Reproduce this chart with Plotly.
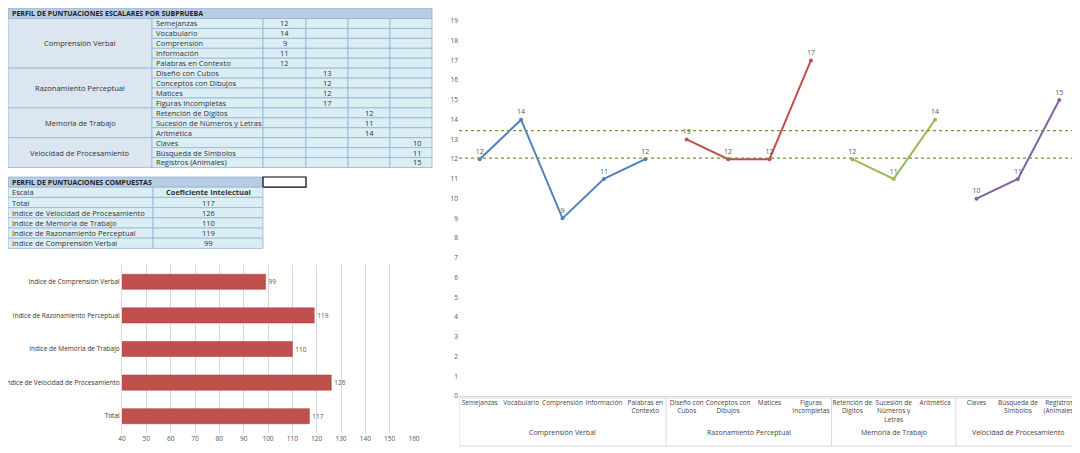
import plotly.graph_objects as go

W, H = 1080, 453

# subtest profile
groups = ["Comprensión Verbal", "Razonamiento Perceptual", "Memoria de Trabajo", "Velocidad de Procesamiento"]
subtests = [
    ["Semejanzas", "Vocabulario", "Comprensión", "Información", "Palabras en Contexto"],
    ["Diseño con Cubos", "Conceptos con Dibujos", "Matices", "Figuras Incompletas"],
    ["Retención de Dígitos", "Sucesión de Números y Letras", "Aritmética"],
    ["Claves", "Búsqueda de Símbolos", "Registros (Animales)"],
]
scores = [[12, 14, 9, 11, 12], [13, 12, 12, 17], [12, 11, 14], [10, 11, 15]]
tick_labels = [
    ["Semejanzas", "Vocabulario", "Comprensión", "Información", "Palabras en<br>Contexto"],
    ["Diseño con<br>Cubos", "Conceptos con<br>Dibujos", "Matices", "Figuras<br>Incompletas"],
    ["Retención de<br>Dígitos", "Sucesión de<br>Números y<br>Letras", "Aritmética"],
    ["Claves", "Búsqueda de<br>Símbolos", "Registros<br>(Animales)"],
]
group_colors = ["#4f81bd", "#c0504d", "#9bbb59", "#8064a2"]
ref_lines = [13.45, 12.05]

# composite scores
indices = ["Total", "Indice de Velocidad de Procesamiento", "Indice de Memoria de Trabajo",
           "Indice de Razonamiento Perceptual", "Indice de Comprensión Verbal"]
ci = [117, 126, 110, 119, 99]

FONT = "Open Sans"


def px(x):
    return x / W


def py(y):
    return 1 - y / H


shapes, annots = [], []


def cell(x0, y0, x1, y1, fill, line="#95b3d7", width=0.8):
    shapes.append(dict(type="rect", xref="paper", yref="paper", x0=px(x0), x1=px(x1),
                       y0=py(y1), y1=py(y0), fillcolor=fill, line=dict(color=line, width=width), layer="below"))


def text(x, y, s, anchor="left", size=7.5, bold=False, color="#333"):
    annots.append(dict(xref="paper", yref="paper", x=px(x), y=py(y), text=f"<b>{s}</b>" if bold else s,
                       showarrow=False, xanchor=anchor, yanchor="middle",
                       font=dict(family=FONT, size=size, color=color)))


# ---- table 1
rh = 9.93
top = 10.5
cell(0, 0, 424, top, "#b8cce4")
text(2, 5, "PERFIL DE PUNTUACIONES ESCALARES POR SUBPRUEBA", size=7, bold=True, color="#1f1f1f")
cols = [255, 298, 340, 382, 424]
r = 0
for g, (name, subs, vals) in enumerate(zip(groups, subtests, scores)):
    y0 = top + r * rh
    cell(0, y0, 144, y0 + len(subs) * rh, "#dce6f1")
    text(72, y0 + len(subs) * rh / 2, name, anchor="center")
    for s, v in zip(subs, vals):
        ya = top + r * rh
        cell(144, ya, 255, ya + rh, "#daeef3")
        text(146, ya + rh / 2, s)
        for c in range(4):
            cell(cols[c], ya, cols[c + 1], ya + rh, "#daeef3")
        xc = (cols[g] + cols[g + 1]) / 2 if g < 3 else cols[4] - 8
        text(xc, ya + rh / 2, str(v), anchor="center" if g < 3 else "right")
        r += 1

# ---- table 2
t2 = 169
rh2 = 10.2
cell(0, t2, 255, t2 + rh2, "#b8cce4")
text(2, t2 + rh2 / 2, "PERFIL DE PUNTUACIONES COMPUESTAS", size=7, bold=True, color="#1f1f1f")
cell(255, t2, 298, t2 + rh2, "white", line="black", width=1.2)
ya = t2 + rh2
cell(0, ya, 145, ya + rh2, "#daeef3")
cell(145, ya, 255, ya + rh2, "#daeef3")
text(2, ya + rh2 / 2, "Escala")
text(200, ya + rh2 / 2, "Coeficiente Intelectual", anchor="center", bold=True)
for i, (n, v) in enumerate(zip(indices, ci)):
    ya = t2 + rh2 * (i + 2)
    cell(0, ya, 145, ya + rh2, "#daeef3")
    cell(145, ya, 255, ya + rh2, "#daeef3")
    text(2, ya + rh2 / 2, n)
    text(200, ya + rh2 / 2, str(v), anchor="center")

fig = go.Figure()

# ---- line chart
pos = 0
tickvals, ticktext = [], []
for g, (vals, labs) in enumerate(zip(scores, tick_labels)):
    xs = list(range(pos, pos + len(vals)))
    fig.add_trace(go.Scatter(x=xs, y=vals, mode="lines+markers+text", text=[str(v) for v in vals],
                             textposition="top center", textfont=dict(size=7, color="#555", family=FONT),
                             line=dict(color=group_colors[g], width=2),
                             marker=dict(size=4, color=group_colors[g]),
                             xaxis="x2", yaxis="y2", showlegend=False, cliponaxis=False))
    tickvals += xs
    ticktext += labs
    annots.append(dict(xref="x2", yref="paper", x=(xs[0] + xs[-1]) / 2, y=py(431),
                       text=groups[g], showarrow=False, font=dict(family=FONT, size=7, color="#444")))
    if g > 0:
        shapes.append(dict(type="line", xref="x2", yref="paper", x0=pos - 0.5, x1=pos - 0.5,
                           y0=py(438), y1=py(390), line=dict(color="#d9d9d9", width=1)))
    pos += len(vals)
for v in ref_lines:
    shapes.append(dict(type="line", xref="x2", yref="y2", x0=-0.5, x1=pos - 0.5, y0=v, y1=v,
                       line=dict(color="#77933c", width=1.2, dash="dot")))
shapes.append(dict(type="rect", xref="x2", yref="paper", x0=-0.5, x1=pos - 0.5,
                   y0=py(438), y1=py(390), line=dict(color="#d9d9d9", width=1)))

# ---- bar chart
fig.add_trace(go.Bar(y=indices, x=ci, orientation="h", marker=dict(color="#c0504d", line=dict(color="#9c3a37", width=0.5)),
                     text=ci, textposition="outside", textfont=dict(size=6.5, color="#555", family=FONT),
                     width=0.45, xaxis="x", yaxis="y", showlegend=False, cliponaxis=False))

fig.update_layout(
    width=W, height=H, margin=dict(l=0, r=0, t=0, b=0, autoexpand=False),
    paper_bgcolor="white", plot_bgcolor="white",
    font=dict(family=FONT, size=7, color="#555"),
    shapes=shapes, annotations=annots,
    xaxis=dict(domain=[px(114), px(406)], range=[40, 160], dtick=10, showgrid=True, automargin=False,
               gridcolor="#d9d9d9", zeroline=False, tickfont=dict(size=6.5), anchor="y"),
    yaxis=dict(domain=[py(425), py(257)], showgrid=False, tickfont=dict(size=6.5, color="#333"), anchor="x",
               showline=True, linecolor="#d9d9d9", ticks="", automargin=False),
    xaxis2=dict(domain=[px(451), px(1072)], range=[-0.5, 14.5], tickvals=tickvals, ticktext=ticktext,
                tickangle=0, automargin=False,
                tickfont=dict(size=6.5, color="#444"), showgrid=False, zeroline=False, anchor="y2",
                showline=True, linecolor="#d9d9d9"),
    yaxis2=dict(domain=[py(388), py(13)], range=[0, 19], dtick=1, showgrid=False, zeroline=False,
                tickfont=dict(size=6.5), anchor="x2", automargin=False),
)

fig.write_html("out.html")
